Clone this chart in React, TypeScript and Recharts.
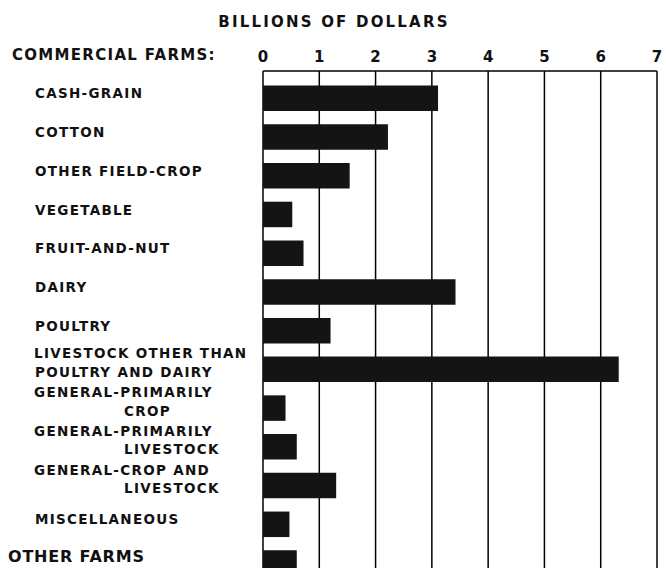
import React from "react";
import { BarChart, Bar, XAxis, YAxis, CartesianGrid } from "recharts";

const categories = [
  "CASH-GRAIN",
  "COTTON",
  "OTHER FIELD-CROP",
  "VEGETABLE",
  "FRUIT-AND-NUT",
  "DAIRY",
  "POULTRY",
  "LIVESTOCK OTHER THAN\nPOULTRY AND DAIRY",
  "GENERAL-PRIMARILY\nCROP",
  "GENERAL-PRIMARILY\nLIVESTOCK",
  "GENERAL-CROP AND\nLIVESTOCK",
  "MISCELLANEOUS",
  "OTHER FARMS",
];

const values = [3.11, 2.22, 1.54, 0.52, 0.72, 3.42, 1.2, 6.32, 0.4, 0.6, 1.3, 0.47, 0.6];

const xTicks = [0, 1, 2, 3, 4, 5, 6, 7];

const title = "BILLIONS OF DOLLARS";
const groupHeader = "COMMERCIAL FARMS:";

const data = categories.map((c, i) => ({ name: c, value: values[i] }));

const FONT = "'DejaVu Sans', sans-serif";

const XTick = (props: any) => {
  const { x, y, payload } = props;
  return (
    <text x={x} y={y} textAnchor="middle" fontFamily={FONT} fontWeight="bold" fontSize={15} fill="#111">
      {payload.value}
    </text>
  );
};

const YTick = (props: any) => {
  const { y, payload } = props;
  const label: string = payload.value;
  if (label === "OTHER FARMS") {
    return (
      <text x={8} y={y - 1} fontFamily={FONT} fontWeight="bold" fontSize={16} letterSpacing={0.8} fill="#111">
        {label}
      </text>
    );
  }
  const lines = label.split("\n");
  const common = { fontFamily: FONT, fontWeight: "bold", fontSize: 13.5, letterSpacing: 1.3, fill: "#111" } as any;
  if (lines.length === 1) {
    return (
      <text x={35} y={y + 0.5} {...common}>
        {label}
      </text>
    );
  }
  const indent = lines[0].startsWith("GENERAL-") ? 124 : 35;
  return (
    <g>
      <text x={34} y={y - 10.5} {...common}>
        {lines[0]}
      </text>
      <text x={indent} y={y + 8} {...common}>
        {lines[1]}
      </text>
    </g>
  );
};

export default function App() {
  return (
    <div style={{ position: "absolute", left: 0, top: 0, width: 666, height: 600, background: "#fff" }}>
      <svg
        width={666}
        height={70}
        style={{ position: "absolute", left: 0, top: 0 }}
      >
        <text x={334} y={26.5} textAnchor="middle" fontFamily={FONT} fontWeight="bold" fontSize={15} letterSpacing={2.2} fill="#111">
          {title}
        </text>
        <text x={12} y={59.5} fontFamily={FONT} fontWeight="bold" fontSize={15} letterSpacing={1.3} fill="#111">
          {groupHeader}
        </text>
      </svg>
      <div style={{ position: "absolute", left: 0, top: 0 }}>
        <BarChart
          width={666}
          height={600}
          data={data}
          layout="vertical"
          margin={{ top: 41, right: 9, bottom: 18, left: 0 }}
          barCategoryGap={0}
        >
          <CartesianGrid horizontal={false} vertical={true} stroke="#000" strokeWidth={1.5} />
          <XAxis
            type="number"
            orientation="top"
            domain={[0, 7]}
            ticks={xTicks}
            height={30}
            tickSize={0}
            tickMargin={9}
            tickLine={false}
            axisLine={{ stroke: "#000", strokeWidth: 1.5 }}
            tick={<XTick />}
            interval={0}
          />
          <YAxis
            type="category"
            dataKey="name"
            width={263}
            padding={{ top: 7.5, bottom: 0 }}
            tickLine={false}
            axisLine={false}
            tickSize={0}
            tick={<YTick />}
            interval={0}
          />
          <Bar dataKey="value" fill="#141414" barSize={25.5} isAnimationActive={false} />
        </BarChart>
      </div>
    </div>
  );
}
